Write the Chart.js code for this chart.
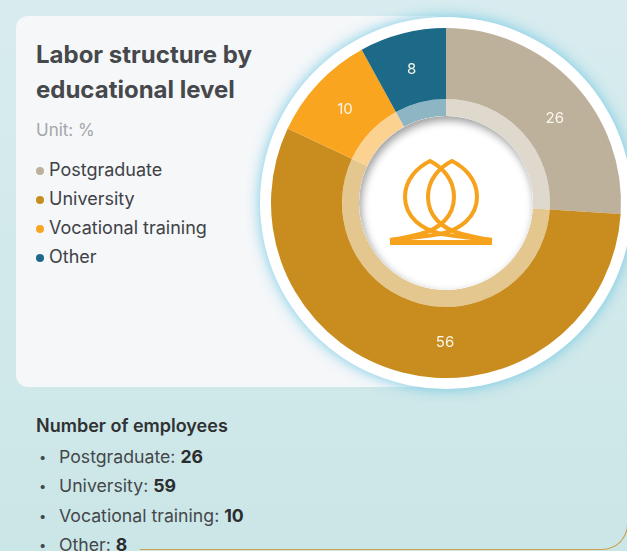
<!DOCTYPE html>
<html>
<head>
<meta charset="utf-8">
<script src="https://cdn.jsdelivr.net/npm/chart.js@4.4.1/dist/chart.umd.min.js"></script>
<style>
    body {
        margin: 0;
        width: 627px;
        height: 551px;
        overflow: hidden;
        position: relative;
        font-family: Inter, "Noto Sans", sans-serif;
        background: linear-gradient(180deg, #d8ecef 0%, #cbe6e7 100%);
    }
    .card {
        position: absolute;
        left: 16px;
        top: 16px;
        width: 430px;
        height: 371px;
        background: #f5f7f9;
        border-radius: 12px;
    }
    .title {
        position: absolute;
        left: 20px;
        top: 21px;
        margin: 0;
        font-size: 24px;
        line-height: 35px;
        font-weight: 700;
        color: #46484c;
        width: 260px;
    }
    .unit {
        position: absolute;
        left: 20px;
        top: 104px;
        font-size: 17px;
        color: #a3a6a9;
    }
    .legend {
        position: absolute;
        left: 20px;
        top: 139px;
        margin: 0;
        padding: 0;
        list-style: none;
    }
    .legend li {
        height: 29px;
        line-height: 29px;
        font-size: 18px;
        color: #3f4246;
        white-space: nowrap;
    }
    .legend span {
        display: inline-block;
        width: 8px;
        height: 8px;
        border-radius: 50%;
        margin-right: 5px;
        vertical-align: 1px;
    }
    .wrap {
        position: absolute;
        left: 246px;
        top: 3px;
        width: 400px;
        height: 400px;
    }
    .counts {
        position: absolute;
        left: 36px;
        top: 413px;
        color: #2f3133;
    }
    .counts h3 {
        margin: 0 0 3px 0;
        font-size: 18px;
        font-weight: 600;
        line-height: 26px;
    }
    .counts ul {
        margin: 0;
        padding: 0;
        list-style: none;
    }
    .counts li {
        height: 29.4px;
        font-size: 17.7px;
        line-height: 29.4px;
        color: #44474a;
        white-space: nowrap;
    }
    .counts li::before {
        content: "•";
        display: inline-block;
        width: 20px;
        padding-left: 3px;
        font-size: 13px;
        line-height: 10px;
        vertical-align: 1px;
    }
    .counts b { color: #2b2d2f; }
    .frame {
        position: absolute;
        left: 140px;
        top: 300px;
        width: 487px;
        height: 249px;
        border-bottom: 1.5px solid #c9a04a;
        border-right: 1.5px solid #c9a04a;
        border-bottom-right-radius: 26px;
    }
</style>
</head>
<body>
<div class="frame"></div>
<div class="card">
    <h2 class="title">Labor structure by educational level</h2>
    <div class="unit">Unit: %</div>
    <ul class="legend" id="legend"></ul>
</div>
<div class="wrap"><canvas id="donut"></canvas></div>
<div class="counts">
    <h3>Number of employees</h3>
    <ul id="counts"></ul>
</div>

<script>
const categories = ['Postgraduate', 'University', 'Vocational training', 'Other'];
const shares = [26, 56, 10, 8];
const employees = [26, 59, 10, 8];
const colors = ['#bdb19b', '#c98c1e', '#f9a520', '#1c6a88'];

// label angle adjustments (degrees) so the numbers sit like in the source
const labelNudge = [5, -14, 0, 0];

function lighten(hex, amt) {
    const n = parseInt(hex.slice(1), 16);
    const r = (n >> 16) & 255, g = (n >> 8) & 255, b = n & 255;
    const mix = c => Math.round(c + (255 - c) * amt);
    return 'rgb(' + mix(r) + ',' + mix(g) + ',' + mix(b) + ')';
}

document.getElementById('legend').innerHTML = categories.map((c, i) =>
    '<li><span style="background:' + colors[i] + '"></span>' + c + '</li>').join('');

document.getElementById('counts').innerHTML = categories.map((c, i) =>
    '<li>' + c + ': <b>' + employees[i] + '</b></li>').join('');

// logo drawn around the donut centre
const logoPaths = [
    'M -56 37 C -46 36 -38 34 -26 31 C -6 26 8 13 8 -6 C 8 -24 -4 -36 -16 -42 C -28 -36 -41 -24 -41 -6 C -41 14 -24 27 -4 31 C 14 34 34 36 46 37',
    'M 46 37 C 36 36 28 34 16 31 C -4 26 -18 13 -18 -6 C -18 -24 -6 -36 6 -42 C 18 -36 31 -24 31 -6 C 31 14 14 27 -6 31 C -24 34 -44 36 -56 37',
    'M -56 39.5 L 46 39.5'
];

const decorPlugin = {
    id: 'decor',
    beforeDatasetsDraw(chart) {
        const arc = chart.getDatasetMeta(0).data[0];
        if (!arc) return;
        const ctx = chart.ctx;
        ctx.save();
        ctx.beginPath();
        ctx.arc(arc.x, arc.y, arc.outerRadius + 11, 0, Math.PI * 2);
        ctx.fillStyle = '#ffffff';
        ctx.shadowColor = 'rgba(100, 195, 225, 0.9)';
        ctx.shadowBlur = 14;
        ctx.fill();
        ctx.restore();
    },
    afterDatasetsDraw(chart) {
        const ctx = chart.ctx;
        const outer = chart.getDatasetMeta(0).data;
        const inner = chart.getDatasetMeta(1).data;
        if (!outer.length) return;
        const cx = outer[0].x, cy = outer[0].y;
        const r = inner[0].innerRadius;

        // white centre with inner shadow
        ctx.save();
        ctx.beginPath();
        ctx.arc(cx, cy, r, 0, Math.PI * 2);
        ctx.fillStyle = '#ffffff';
        ctx.fill();
        ctx.clip();
        ctx.beginPath();
        ctx.rect(cx - 300, cy - 300, 600, 600);
        ctx.arc(cx, cy, r, 0, Math.PI * 2, true);
        ctx.shadowColor = 'rgba(0, 0, 0, 0.4)';
        ctx.shadowBlur = 9;
        ctx.shadowOffsetX = 2;
        ctx.shadowOffsetY = 4;
        ctx.fillStyle = '#ffffff';
        ctx.fill();
        ctx.restore();

        // logo
        ctx.save();
        ctx.translate(cx, cy);
        ctx.strokeStyle = '#f7a21c';
        ctx.lineJoin = 'miter';
        logoPaths.forEach((d, i) => {
            ctx.lineWidth = i === 2 ? 5 : 4;
            ctx.stroke(new Path2D(d));
        });
        ctx.restore();

        // value labels
        ctx.save();
        ctx.fillStyle = '#fbf6ec';
        ctx.font = '15px Inter, "Noto Sans", sans-serif';
        ctx.textAlign = 'center';
        ctx.textBaseline = 'middle';
        outer.forEach((a, i) => {
            const mid = (a.startAngle + a.endAngle) / 2 + labelNudge[i] * Math.PI / 180;
            const rr = (a.innerRadius + a.outerRadius) / 2 - 1;
            ctx.fillText(String(shares[i]), cx + Math.cos(mid) * rr, cy + Math.sin(mid) * rr + 1);
        });
        ctx.restore();
    }
};

new Chart(document.getElementById('donut'), {
    type: 'doughnut',
    data: {
        labels: categories,
        datasets: [{
            data: shares,
            backgroundColor: colors,
            borderWidth: 0,
            weight: 71
        }, {
            data: shares,
            backgroundColor: colors.map(c => lighten(c, 0.5)),
            borderWidth: 0,
            weight: 17
        }]
    },
    options: {
        responsive: true,
        maintainAspectRatio: false,
        animation: false,
        events: [],
        cutout: '49.7%',
        hoverOffset: 0,
        layout: { padding: 25 },
        plugins: {
            legend: { display: false },
            tooltip: { enabled: false }
        }
    },
    plugins: [decorPlugin]
});
</script>
</body>
</html>
